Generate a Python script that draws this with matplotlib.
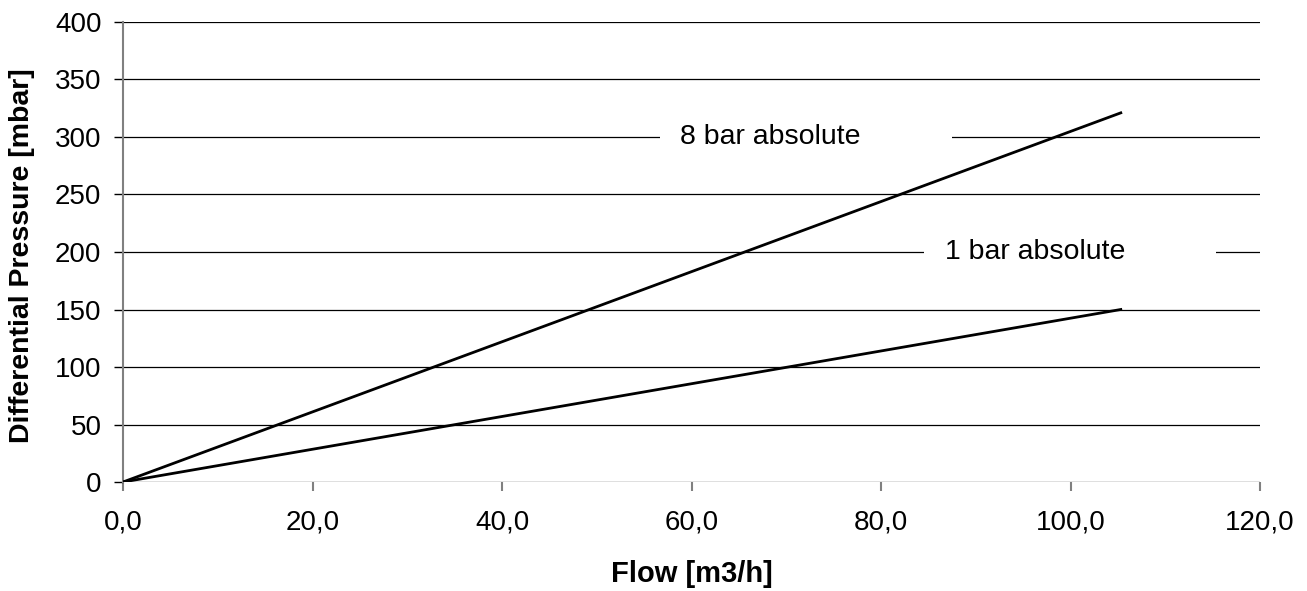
import matplotlib.pyplot as plt
from matplotlib.patches import Rectangle

plt.rcParams['font.family'] = ['Liberation Sans', 'DejaVu Sans']

# datos de las curvas
flujo = [0.0, 105.3]
dp_8bar = [0, 321]
dp_1bar = [0, 150]
etiquetas = ["8 bar absolute", "1 bar absolute"]

x_ticks = [0, 20, 40, 60, 80, 100, 120]
y_ticks = [0, 50, 100, 150, 200, 250, 300, 350, 400]

fig = plt.figure(figsize=(13.07, 5.91), dpi=100)
ax = fig.add_axes([0.0941, 0.1844, 0.8700, 0.7784])

# grilla horizontal
for yv in y_ticks:
    ax.axhline(yv, color='black', linewidth=0.9, zorder=1)

ax.plot(flujo, dp_8bar, color='black', linewidth=2, zorder=3)
ax.plot(flujo, dp_1bar, color='black', linewidth=2, zorder=3)

# cajas blancas de las etiquetas
ax.add_patch(Rectangle((56.7, 288), 30.8, 24, facecolor='white', edgecolor='none', zorder=2))
ax.add_patch(Rectangle((84.5, 188), 30.9, 24, facecolor='white', edgecolor='none', zorder=2))
ax.text(58.8, 300, etiquetas[0], fontsize=20.5, va='center', ha='left', zorder=4)
ax.text(86.8, 200, etiquetas[1], fontsize=20.5, va='center', ha='left', zorder=4)

ax.set_xlim(0, 120)
ax.set_ylim(0, 400)
ax.set_xticks(x_ticks)
ax.set_xticklabels([f"{v:.1f}".replace('.', ',') for v in x_ticks])
ax.set_yticks(y_ticks)
ax.tick_params(axis='both', labelsize=20, length=6.5, width=1, direction='out')
ax.tick_params(axis='x', pad=13, color='#808080', width=1.5)
ax.tick_params(axis='y', pad=9, color='black')

for s in ['top', 'right', 'bottom']:
    ax.spines[s].set_visible(False)
ax.spines['left'].set_color('#808080')
ax.spines['left'].set_linewidth(1.5)

fig.text(0.529, 0.0288, 'Flow [m3/h]', fontsize=21, fontweight='bold', ha='center', va='center')
fig.text(0.0168, 0.567, 'Differential Pressure [mbar]', fontsize=20.5, fontweight='bold',
         rotation=90, ha='center', va='center')

plt.savefig('out.png', dpi=100)
